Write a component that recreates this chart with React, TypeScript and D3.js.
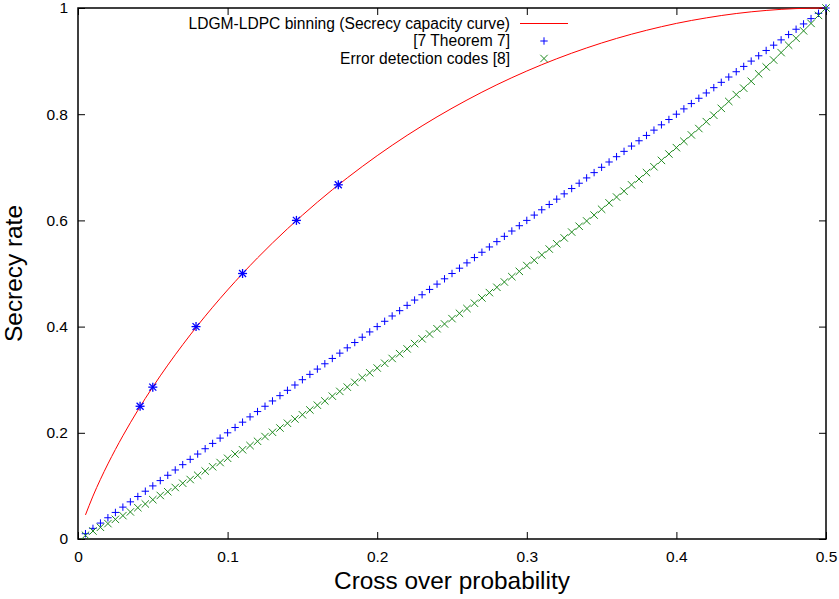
import React, { useRef, useEffect } from 'react';
import * as d3 from 'd3';

// secrecy capacity curve (red line)
const capacityP = [0.005, 0.01, 0.015, 0.02, 0.03, 0.04, 0.05, 0.06, 0.07, 0.08, 0.09, 0.1,
    0.12, 0.14, 0.16, 0.18, 0.2, 0.22, 0.24, 0.26, 0.28, 0.3, 0.32, 0.34, 0.36, 0.38, 0.4,
    0.42, 0.44, 0.46, 0.48, 0.5];
const capacityRate = [0.0454, 0.0808, 0.1124, 0.1414, 0.1944, 0.2423, 0.2864, 0.3274, 0.3659,
    0.4022, 0.4365, 0.469, 0.5294, 0.5842, 0.6343, 0.6801, 0.7219, 0.7602, 0.795, 0.8267,
    0.8555, 0.8813, 0.9044, 0.9248, 0.9427, 0.958, 0.971, 0.9814, 0.9896, 0.9954, 0.9989, 1.0];

// LDGM-LDPC binning points (asterisks on the curve)
const binningP = [0.0415, 0.05, 0.0789, 0.11, 0.146, 0.174];
const binningRate = [0.25, 0.286, 0.4, 0.5, 0.6, 0.667];

// crossover probabilities for the two point series
const sampleP = [0.005, 0.01, 0.015, 0.02, 0.025, 0.03, 0.035, 0.04, 0.045, 0.05,
    0.055, 0.06, 0.065, 0.07, 0.075, 0.08, 0.085, 0.09, 0.095, 0.1,
    0.105, 0.11, 0.115, 0.12, 0.125, 0.13, 0.135, 0.14, 0.145, 0.15,
    0.155, 0.16, 0.165, 0.17, 0.175, 0.18, 0.185, 0.19, 0.195, 0.2,
    0.205, 0.21, 0.215, 0.22, 0.225, 0.23, 0.235, 0.24, 0.245, 0.25,
    0.255, 0.26, 0.265, 0.27, 0.275, 0.28, 0.285, 0.29, 0.295, 0.3,
    0.305, 0.31, 0.315, 0.32, 0.325, 0.33, 0.335, 0.34, 0.345, 0.35,
    0.355, 0.36, 0.365, 0.37, 0.375, 0.38, 0.385, 0.39, 0.395, 0.4,
    0.405, 0.41, 0.415, 0.42, 0.425, 0.43, 0.435, 0.44, 0.445, 0.45,
    0.455, 0.46, 0.465, 0.47, 0.475, 0.48, 0.485, 0.49, 0.495, 0.5];

// [7 Theorem 7]
const theoremRate = [0.01, 0.02, 0.03, 0.04, 0.05, 0.06, 0.07, 0.08, 0.09, 0.1,
    0.11, 0.12, 0.13, 0.14, 0.15, 0.16, 0.17, 0.18, 0.19, 0.2,
    0.21, 0.22, 0.23, 0.24, 0.25, 0.26, 0.27, 0.28, 0.29, 0.3,
    0.31, 0.32, 0.33, 0.34, 0.35, 0.36, 0.37, 0.38, 0.39, 0.4,
    0.41, 0.42, 0.43, 0.44, 0.45, 0.46, 0.47, 0.48, 0.49, 0.5,
    0.51, 0.52, 0.53, 0.54, 0.55, 0.56, 0.57, 0.58, 0.59, 0.6,
    0.61, 0.62, 0.63, 0.64, 0.65, 0.66, 0.67, 0.68, 0.69, 0.7,
    0.71, 0.72, 0.73, 0.74, 0.75, 0.76, 0.77, 0.78, 0.79, 0.8,
    0.81, 0.82, 0.83, 0.84, 0.85, 0.86, 0.87, 0.88, 0.89, 0.9,
    0.91, 0.92, 0.93, 0.94, 0.95, 0.96, 0.97, 0.98, 0.99, 1.0];

// Error detection codes [8]
const detectionRate = [0.007, 0.015, 0.022, 0.029, 0.037, 0.044, 0.051, 0.059, 0.066, 0.074,
    0.082, 0.089, 0.097, 0.105, 0.112, 0.12, 0.128, 0.136, 0.144, 0.152,
    0.16, 0.168, 0.176, 0.184, 0.193, 0.201, 0.209, 0.218, 0.226, 0.234,
    0.243, 0.252, 0.26, 0.269, 0.278, 0.286, 0.295, 0.304, 0.313, 0.322,
    0.331, 0.34, 0.349, 0.358, 0.368, 0.377, 0.386, 0.396, 0.405, 0.415,
    0.425, 0.434, 0.444, 0.454, 0.464, 0.474, 0.484, 0.494, 0.504, 0.515,
    0.525, 0.535, 0.546, 0.556, 0.567, 0.578, 0.589, 0.599, 0.61, 0.621,
    0.633, 0.644, 0.655, 0.667, 0.678, 0.69, 0.701, 0.713, 0.725, 0.737,
    0.749, 0.761, 0.773, 0.786, 0.798, 0.811, 0.824, 0.837, 0.849, 0.862,
    0.876, 0.889, 0.902, 0.916, 0.93, 0.943, 0.957, 0.971, 0.986, 1.0];

const xTicks = [0, 0.1, 0.2, 0.3, 0.4, 0.5];
const yTicks = [0, 0.2, 0.4, 0.6, 0.8, 1];

const legendLabels = [
    'LDGM-LDPC binning (Secrecy capacity curve)',
    '[7 Theorem 7]',
    'Error detection codes [8]'
];

const W = 839;
const H = 599;
const FONT = '"Liberation Sans", Arial, Helvetica, sans-serif';
const BLUE = '#0000ff';
const GREEN = '#1f8a1f';
const RED = '#ff0000';

const App = () => {
    const ref = useRef(null);

    useEffect(() => {
        const svg = d3.select(ref.current);
        svg.selectAll('*').remove();

        const margin = { top: 8, right: 13, bottom: 60, left: 78 };
        const width = W - margin.left - margin.right;
        const height = H - margin.top - margin.bottom;

        const g = svg.append('g')
            .attr('transform', 'translate(' + margin.left + ',' + margin.top + ')');

        const x = d3.scaleLinear().domain([0, 0.5]).range([0, width]);
        const y = d3.scaleLinear().domain([0, 1]).range([height, 0]);

        // inward ticks on all four sides (gnuplot mirror style)
        const tickLen = 7;
        g.append('g')
            .attr('class', 'xaxis')
            .attr('transform', 'translate(0,' + height + ')')
            .call(d3.axisBottom(x).tickValues(xTicks).tickSize(-tickLen).tickFormat(d3.format('')))
            .call(a => a.select('.domain').remove());
        g.append('g')
            .call(d3.axisTop(x).tickValues(xTicks).tickSize(-tickLen).tickFormat(() => ''))
            .call(a => a.select('.domain').remove());
        g.append('g')
            .attr('class', 'yaxis')
            .call(d3.axisLeft(y).tickValues(yTicks).tickSize(-tickLen).tickFormat(d3.format('')))
            .call(a => a.select('.domain').remove());
        g.append('g')
            .attr('transform', 'translate(' + width + ',0)')
            .call(d3.axisRight(y).tickValues(yTicks).tickSize(-tickLen).tickFormat(() => ''))
            .call(a => a.select('.domain').remove());

        g.selectAll('.tick line').attr('stroke', '#000').attr('stroke-width', 1);
        g.selectAll('.tick text')
            .style('font-family', FONT)
            .style('font-size', '15.5px')
            .attr('fill', '#000');
        g.selectAll('.xaxis .tick text').attr('y', 12);
        g.selectAll('.yaxis .tick text').attr('x', -10);

        // frame
        g.append('rect')
            .attr('width', width)
            .attr('height', height)
            .attr('fill', 'none')
            .attr('stroke', '#000')
            .attr('stroke-width', 1.5);

        const plot = g.append('g');

        // red capacity curve
        const line = d3.line()
            .x(d => x(d[0]))
            .y(d => y(d[1]))
            .curve(d3.curveMonotoneX);
        plot.append('path')
            .datum(capacityP.map((p, i) => [p, capacityRate[i]]))
            .attr('d', line)
            .attr('fill', 'none')
            .attr('stroke', RED)
            .attr('stroke-width', 1);

        const s = 3.7;
        const plus = (sel, cx, cy, color, r = s, w = 1) => {
            const m = sel.append('g').attr('transform', 'translate(' + cx + ',' + cy + ')')
                .attr('stroke', color).attr('stroke-width', w);
            m.append('line').attr('x1', -r).attr('x2', r).attr('y1', 0).attr('y2', 0);
            m.append('line').attr('x1', 0).attr('x2', 0).attr('y1', -r).attr('y2', r);
        };
        const cross = (sel, cx, cy, color, r = s, w = 1) => {
            const m = sel.append('g').attr('transform', 'translate(' + cx + ',' + cy + ')')
                .attr('stroke', color).attr('stroke-width', w);
            m.append('line').attr('x1', -r).attr('x2', r).attr('y1', -r).attr('y2', r);
            m.append('line').attr('x1', -r).attr('x2', r).attr('y1', r).attr('y2', -r);
        };

        sampleP.forEach((p, i) => plus(plot, x(p), y(theoremRate[i]), BLUE));
        sampleP.forEach((p, i) => cross(plot, x(p), y(detectionRate[i]), GREEN));

        // asterisks on the capacity curve
        binningP.forEach((p, i) => {
            plus(plot, x(p), y(binningRate[i]), BLUE, 4.5, 1.3);
            cross(plot, x(p), y(binningRate[i]), BLUE, 3.5, 1.3);
        });

        // legend
        const legend = g.selectAll('.legend').data(legendLabels)
            .enter().append('g')
            .attr('class', 'legend')
            .attr('transform', (d, i) => 'translate(0,' + (15.5 + i * 17.5) + ')');

        legend.append('text')
            .attr('x', 432)
            .attr('dy', '0.35em')
            .attr('text-anchor', 'end')
            .style('font-family', FONT)
            .style('font-size', '15.6px')
            .text(d => d);

        const lg = legend.filter((d, i) => i === 0);
        lg.append('line')
            .attr('x1', 442).attr('x2', 490)
            .attr('stroke', RED).attr('stroke-width', 1);
        plus(legend.filter((d, i) => i === 1), 466, 0, BLUE);
        cross(legend.filter((d, i) => i === 2), 466, 0, GREEN);

        // axis titles
        g.append('text')
            .attr('x', width / 2)
            .attr('y', height + 50)
            .attr('text-anchor', 'middle')
            .style('font-family', FONT)
            .style('font-size', '24.4px')
            .text('Cross over probability');

        g.append('text')
            .attr('transform', 'rotate(-90)')
            .attr('x', -height / 2)
            .attr('y', -56)
            .attr('text-anchor', 'middle')
            .style('font-family', FONT)
            .style('font-size', '24.4px')
            .text('Secrecy rate');
    }, []);

    return (
        <svg ref={ref} width={W} height={H}
            style={{ position: 'absolute', left: 0, top: 0, background: '#fff' }}></svg>
    );
};

export default App;
